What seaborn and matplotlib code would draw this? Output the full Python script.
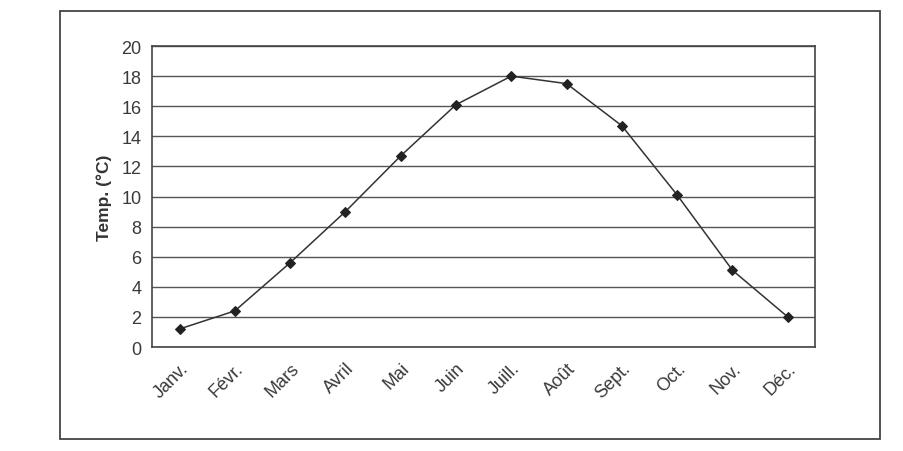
import matplotlib
matplotlib.use('Agg')
import matplotlib.pyplot as plt
import seaborn as sns
import pandas as pd
from matplotlib.patches import Rectangle

# Températures moyennes mensuelles
mois = ['Janv.', 'Févr.', 'Mars', 'Avril', 'Mai', 'Juin',
        'Juill.', 'Août', 'Sept.', 'Oct.', 'Nov.', 'Déc.']
temperatures = [1.2, 2.4, 5.6, 9.0, 12.7, 16.1, 18.0, 17.5, 14.7, 10.1, 5.1, 2.0]

df = pd.DataFrame({'mois': mois, 'temp': temperatures})

sns.set_style('white')
plt.rcParams['font.family'] = ['Liberation Sans', 'DejaVu Sans']

fig = plt.figure(figsize=(9.04, 4.52), dpi=100)
ax = fig.add_axes([0.168, 0.230, 0.734, 0.666])

sns.lineplot(data=df, x='mois', y='temp', sort=False, ax=ax,
             color='#333333', linewidth=1.1, marker='D', markersize=5,
             markeredgecolor='#222222', markerfacecolor='#222222')

ax.set_xlim(-0.5, 11.5)
ax.set_ylim(0, 20)
ax.set_yticks(range(0, 21, 2))
ax.yaxis.grid(True, color='#555555', linewidth=1.0)
ax.xaxis.grid(False)
ax.set_axisbelow(True)

# petites graduations entre les mois
ax.set_xticks([i - 0.5 for i in range(13)], minor=True)
ax.tick_params(axis='x', which='minor', length=4, color='#555555', direction='out')
ax.tick_params(axis='x', which='major', length=0, pad=9, labelsize=13, colors='#3a3a3a')
ax.tick_params(axis='y', length=4, color='#555555', labelsize=13, colors='#3a3a3a')
plt.setp(ax.get_xticklabels(), rotation=45, ha='right', rotation_mode='anchor')

ax.set_xlabel('')
ax.set_ylabel('Temp. (°C)', fontsize=12.5, fontweight='bold', color='#333333', labelpad=7)

for s in ax.spines.values():
    s.set_color('#444444')
    s.set_linewidth(1.2)
    s.set_visible(True)

# cadre extérieur
fig.patches.append(Rectangle((60 / 904, 12 / 452), 820 / 904, 428 / 452,
                             transform=fig.transFigure, fill=False,
                             edgecolor='#444444', linewidth=1.3))

fig.savefig('out.png', dpi=100)
